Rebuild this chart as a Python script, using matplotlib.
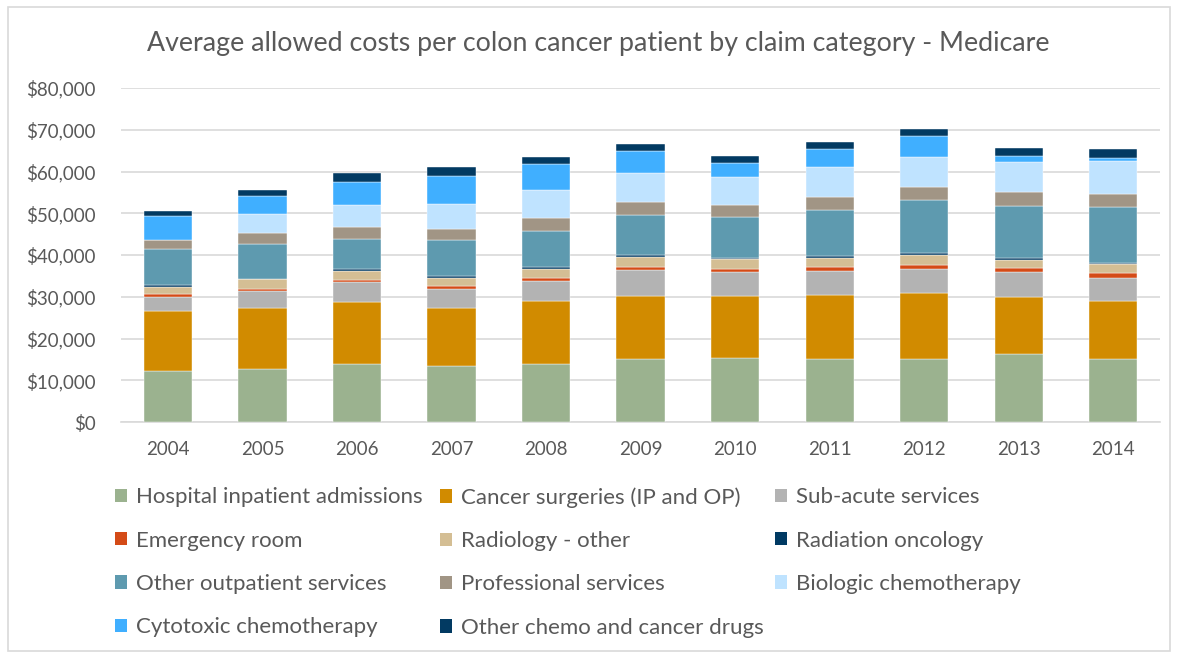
import numpy as np
import matplotlib.pyplot as plt
from matplotlib.patches import Rectangle, Patch
from matplotlib.ticker import FuncFormatter

plt.rcParams['font.family'] = ['Lato', 'DejaVu Sans']

years = ['2004', '2005', '2006', '2007', '2008', '2009', '2010', '2011', '2012', '2013', '2014']

# average allowed cost per patient, dollars
hospital = [12200, 12600, 13800, 13500, 13800, 15100, 15400, 15100, 15000, 16200, 15000]
surgeries = [14400, 14800, 14900, 13900, 15200, 15200, 14800, 15300, 15800, 13800, 13900]
sub_acute = [3400, 4000, 4900, 4500, 4800, 6200, 5800, 5800, 5900, 5900, 5600]
emergency = [600, 400, 400, 600, 600, 600, 600, 1000, 800, 900, 1200]
radiology = [1800, 2400, 2200, 2100, 2300, 2400, 2400, 2200, 2400, 2100, 2100]
radiation = [400, 100, 400, 400, 400, 400, 300, 300, 500, 400, 400]
outpatient = [8600, 8300, 7300, 8700, 8700, 9700, 9700, 11100, 12700, 12500, 13400]
professional = [2300, 2600, 2700, 2600, 3000, 3200, 3100, 3200, 3200, 3300, 2900]
biologic = [0, 4600, 5400, 6000, 6700, 6800, 6700, 7000, 7100, 7200, 8100]
cytotoxic = [5700, 4400, 5400, 6700, 6300, 5400, 3300, 4400, 5000, 1400, 700]
other_chemo = [1200, 1300, 2200, 2000, 1600, 1600, 1500, 1700, 1900, 1900, 2000]

labels = ['Hospital inpatient admissions', 'Cancer surgeries (IP and OP)', 'Sub-acute services',
          'Emergency room', 'Radiology - other', 'Radiation oncology',
          'Other outpatient services', 'Professional services', 'Biologic chemotherapy',
          'Cytotoxic chemotherapy', 'Other chemo and cancer drugs']
series = [hospital, surgeries, sub_acute, emergency, radiology, radiation,
          outpatient, professional, biologic, cytotoxic, other_chemo]
colors = ['#9BB28F', '#D18B00', '#B3B3B3', '#D44B17', '#D4BE94', '#003A63',
          '#5E9AAF', '#A19585', '#BFE3FF', '#40AFFF', '#023A62']

fig = plt.figure(figsize=(11.78, 6.54), dpi=100)
ax = fig.add_axes([0.1025, 0.3547, 0.8826, 0.5107])

x = np.arange(len(years))
bottom = np.zeros(len(years))
for vals, col, lab in zip(series, colors, labels):
    ax.bar(x, vals, 0.51, bottom=bottom, color=col, label=lab,
           edgecolor='white', linewidth=0.3, zorder=3)
    bottom += np.array(vals)

ax.set_xlim(-0.5, len(years) - 0.5)
ax.set_ylim(0, 80000)
ax.set_yticks(np.arange(0, 80001, 10000))
ax.yaxis.set_major_formatter(FuncFormatter(lambda v, p: '${:,.0f}'.format(v)))
ax.set_xticks(x)
ax.set_xticklabels(years)
ax.grid(axis='y', color='#D9D9D9', linewidth=1.2, zorder=0)
for s in ['top', 'right', 'left']:
    ax.spines[s].set_visible(False)
ax.spines['bottom'].set_color('#D9D9D9')
ax.spines['bottom'].set_linewidth(1.2)
ax.tick_params(axis='both', length=0, labelsize=13.5, labelcolor='#595959')
ax.tick_params(axis='y', pad=18)
ax.tick_params(axis='x', pad=14)

fig.text(0.508, 0.933, 'Average allowed costs per colon cancer patient by claim category - Medicare',
         ha='center', va='center', fontsize=19.3, color='#595959')

# legend: three fixed columns, filled row-wise
col_x = [0.0976, 0.3735, 0.6579]
for c in range(3):
    idx = list(range(c, len(labels), 3))
    handles = [Patch(facecolor=colors[i], label=labels[i]) for i in idx]
    fig.legend(handles=handles, loc='upper left', bbox_to_anchor=(col_x[c], 0.255),
               frameon=False, fontsize=16, labelcolor='#595959', handlelength=0.55,
               handleheight=0.55, handletextpad=0.4, labelspacing=1.05,
               borderpad=0, borderaxespad=0)

fig.patches.append(Rectangle((0.007, 0.005), 0.986, 0.985, transform=fig.transFigure,
                             fill=False, edgecolor='#D9D9D9', linewidth=1.2))

fig.savefig('out.png', dpi=100)
